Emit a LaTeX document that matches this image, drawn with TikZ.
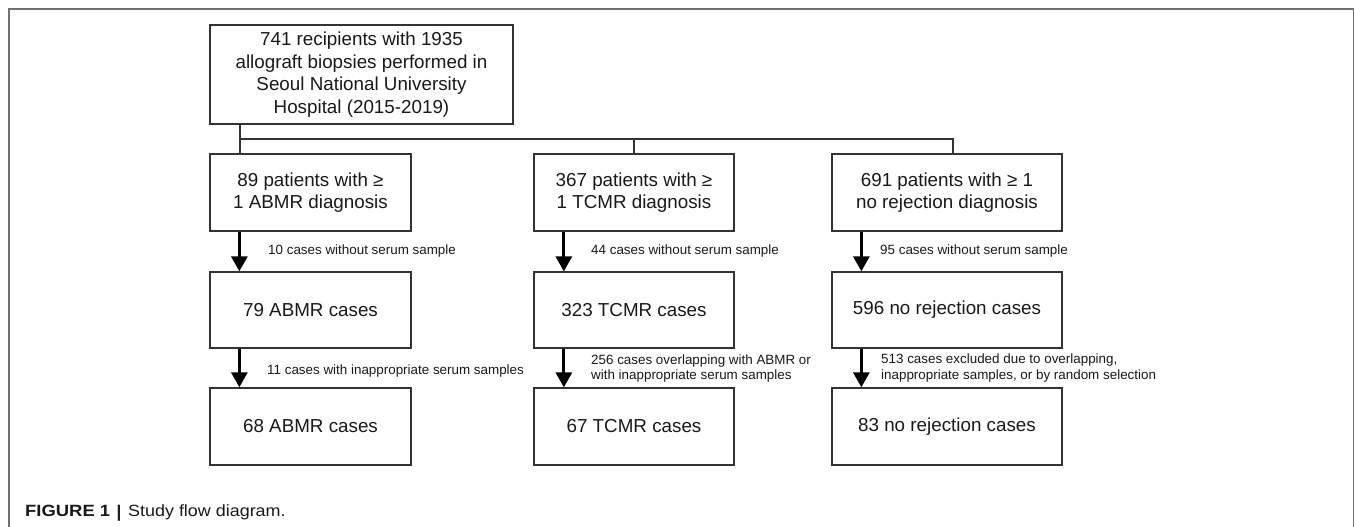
\documentclass[tikz,border=0pt]{standalone}
\usepackage{fontspec}
\setmainfont{Liberation Sans}
\usetikzlibrary{arrows.meta}
\begin{document}
\begin{tikzpicture}[x=1pt,y=-1pt,
  box/.style={draw=black!80, line width=1.3pt, align=center, inner sep=0pt,
    font=\fontsize{18.8}{22.7}\selectfont, text=black!90},
  tree/.style={draw=black!80, line width=1.3pt},
  arr/.style={line width=3pt, -{Triangle[width=16pt,length=15pt]}},
  lbl/.style={anchor=west, inner sep=0pt, align=left,
    font=\fontsize{13.4}{15.5}\selectfont, text=black!90},
  framestyle/.style={draw={rgb,255:red,112;green,112;blue,112}, line width=1.6pt},
  captext/.style={anchor=base west, inner sep=0pt, text=black!90}
]
\useasboundingbox (0,0) rectangle (1355,527);
\draw[framestyle] (9,527) -- (9,9) -- (1353.5,9) -- (1353.5,527);

\node[box, minimum width=303pt, minimum height=99pt] (top) at (361.5,74.5)
  {741 recipients with 1935\\allograft biopsies performed in\\Seoul National University\\Hospital (2015-2019)};

\node[box, minimum width=201pt, minimum height=77pt] (a1) at (310.5,192.5) {89 patients with ≥\\1 ABMR diagnosis};
\node[box, minimum width=200pt, minimum height=77pt] (t1) at (634,192.5) {367 patients with ≥\\1 TCMR diagnosis};
\node[box, minimum width=230pt, minimum height=77pt] (n1) at (947,192.5) {691 patients with ≥ 1\\no rejection diagnosis};

\node[box, minimum width=201pt, minimum height=76pt] (a2) at (310.5,310) {79 ABMR cases};
\node[box, minimum width=200pt, minimum height=76pt] (t2) at (634,310) {323 TCMR cases};
\node[box, minimum width=230pt, minimum height=76pt] (n2) at (947,310) {596 no rejection cases};

\node[box, minimum width=201pt, minimum height=77pt] (a3) at (310.5,426.5) {68 ABMR cases};
\node[box, minimum width=200pt, minimum height=77pt] (t3) at (634,426.5) {67 TCMR cases};
\node[box, minimum width=230pt, minimum height=77pt] (n3) at (947,426.5) {83 no rejection cases};

% tree connectors
\coordinate (bl) at (240,139);
\coordinate (br) at (953,139);
\draw[tree] (top.south -| bl) -- (a1.north -| bl);
\draw[tree] (bl) -- (br) -- (n1.north -| br);
\draw[tree] (bl -| t1.north) -- (t1.north);

% arrows
\draw[arr] ([xshift=30pt]a1.south west) -- ([xshift=30pt]a2.north west);
\draw[arr] ([xshift=30.5pt]t1.south west) -- ([xshift=30.5pt]t2.north west);
\draw[arr] ([xshift=30pt]n1.south west) -- ([xshift=30pt]n2.north west);
\draw[arr] ([xshift=30pt]a2.south west) -- ([xshift=30pt]a3.north west);
\draw[arr] ([xshift=30.5pt]t2.south west) -- ([xshift=30.5pt]t3.north west);
\draw[arr] ([xshift=30pt]n2.south west) -- ([xshift=30pt]n3.north west);

% labels
\node[lbl] (l1a) at (268,251) {10 cases without serum sample};
\node[lbl] (l1b) at (591,251) {44 cases without serum sample};
\node[lbl] (l1c) at (880,251) {95 cases without serum sample};
\node[lbl] (l2a) at (267,371) {11 cases with inappropriate serum samples};
\node[lbl] (l2b) at (591,368.5) {256 cases overlapping with ABMR or\\with inappropriate serum samples};
\node[lbl] (l2c) at (881,368) {513 cases excluded due to overlapping,\\inappropriate samples, or by random selection};

% caption
\node[captext, font=\fontsize{16.3}{18}\selectfont\bfseries] (c1) at (25,516) {\scalebox{1.13}[1]{FIGURE 1}};
\node[captext, font=\fontsize{17}{18}\selectfont\bfseries] (c2) at (116.5,517) {|};
\node[captext, font=\fontsize{16.3}{18}\selectfont] (c3) at (128,516) {\scalebox{1.1}[1]{Study flow diagram.}};
\end{tikzpicture}
\end{document}
